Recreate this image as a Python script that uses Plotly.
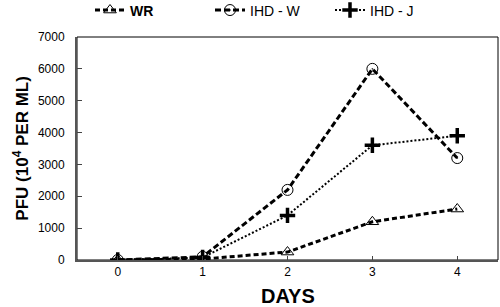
import plotly.graph_objects as go

days = [0, 1, 2, 3, 4]
wr = [0, 30, 250, 1200, 1600]
ihd_w = [0, 100, 2200, 6000, 3200]
ihd_j = [0, 80, 1400, 3600, 3900]
y_ticks = [0, 1000, 2000, 3000, 4000, 5000, 6000, 7000]

fig = go.Figure()
fig.add_trace(go.Scatter(x=days, y=wr, name="<b>WR</b>", mode="lines+markers",
    line=dict(color="black", width=3, dash="5px,3px"),
    marker=dict(symbol="triangle-up-open", size=11, color="black", line=dict(width=1))))
fig.add_trace(go.Scatter(x=days, y=ihd_w, name="IHD - W", mode="lines+markers",
    line=dict(color="black", width=3, dash="6px,3px"),
    marker=dict(symbol="circle-open-dot", size=11, color="black", line=dict(width=1))))
fig.add_trace(go.Scatter(x=days, y=ihd_j, name="IHD - J", mode="lines+markers",
    line=dict(color="black", width=2, dash="2px,2px"),
    marker=dict(symbol="cross-thin-open", size=11, color="black", line=dict(width=3.5, color="black"))))

fig.update_layout(
    width=500, height=307,
    margin=dict(l=77, r=2, t=37, b=47, autoexpand=False),
    plot_bgcolor="white", paper_bgcolor="white",
    font=dict(family="Liberation Sans, Arial", color="black", size=12),
    showlegend=True,
    legend=dict(orientation="h", xref="container", x=0.18, xanchor="left",
                yref="container", y=0.966, yanchor="middle",
                font=dict(size=14), entrywidth=75, entrywidthmode="pixels",
                traceorder="normal", bgcolor="rgba(0,0,0,0)"),
    xaxis=dict(range=[-0.48, 4.48], tickvals=days, ticks="inside", ticklen=4,
               showgrid=False, zeroline=False, showline=True, linecolor="#555", linewidth=2,
               automargin=False),
    yaxis=dict(range=[0, 7000], tickvals=y_ticks, ticks="inside", ticklen=5,
               showgrid=False, zeroline=False, showline=True, linecolor="#555", linewidth=2,
               automargin=False, ticklabelstandoff=8),
)
fig.add_shape(type="rect", xref="paper", yref="paper", x0=0, x1=1, y0=0, y1=1,
              line=dict(color="black", width=1), layer="below")
fig.add_annotation(text="<b>DAYS</b>", xref="paper", yref="paper", x=0.5, y=-0.16,
                   xanchor="center", yanchor="middle", showarrow=False, font=dict(size=20))
fig.add_annotation(text="<b>PFU (10<sup>4</sup> PER ML)</b>", xref="paper", yref="paper",
                   x=-0.135, y=0.5, xanchor="center", yanchor="middle", textangle=-90,
                   showarrow=False, font=dict(size=17))
fig.write_html("out.html", config={"displayModeBar": False},
               post_script="document.body.style.margin='0';document.body.style.overflow='hidden';")
